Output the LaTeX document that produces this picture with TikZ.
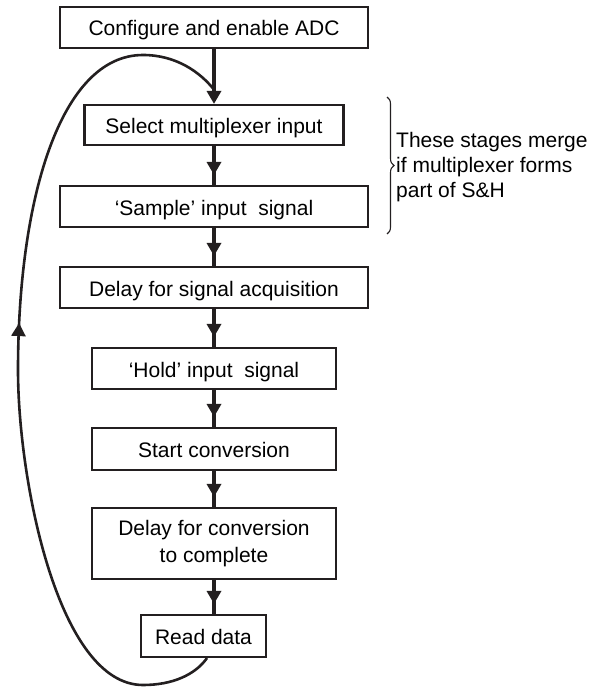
\documentclass[tikz,border=0pt]{standalone}
\usepackage{fontspec}
\setmainfont{Liberation Sans}
\usetikzlibrary{arrows.meta,decorations.markings,decorations.pathreplacing,calc}
\definecolor{ink}{HTML}{231F20}
\begin{document}
\begin{tikzpicture}[x=1pt,y=-1pt,
  box/.style={draw=ink, line width=2.1pt, inner sep=0pt, text=black,
    font=\fontsize{21}{26.5}\selectfont, align=center},
  onebox/.style={box, text height=17pt, text depth=0pt},
  flow/.style={draw=ink, line width=3.4pt, postaction={decorate},
    decoration={markings, mark=at position -10pt with {\arrow[ink]{Triangle[length=13pt,width=14pt]}}}},
  endflow/.style={draw=ink, line width=3.4pt, -{Triangle[length=13pt,width=14pt]}},
  loopline/.style={draw=ink, line width=2.6pt, postaction={decorate},
    decoration={markings, mark=at position 0.545 with {\arrow[ink]{Triangle[length=13pt,width=14pt]}}}},
  note/.style={font=\fontsize{21}{25}\selectfont, align=left, inner sep=0pt, anchor=north west}
]
\useasboundingbox (0,0) rectangle (592,687);

\node[onebox, minimum width=308pt, minimum height=41pt] (cfg) at (214,27.5) {Configure and enable ADC};
\node[onebox, minimum width=259pt, minimum height=40pt] (sel) at (214,125) {Select multiplexer input};
\node[onebox, minimum width=308pt, minimum height=41pt] (smp) at (214,206.5) {`Sample' input\ \ signal};
\node[onebox, minimum width=308pt, minimum height=41pt] (acq) at (214,287.5) {Delay for signal acquisition};
\node[onebox, minimum width=244pt, minimum height=41pt] (hold) at (214,368.5) {`Hold' input\ \ signal};
\node[onebox, minimum width=244pt, minimum height=42pt] (start) at (214,449) {Start conversion};
\node[box, minimum width=244pt, minimum height=71pt] (dconv) at (214,543.5) {Delay for conversion\\to complete};
\node[onebox, minimum width=125pt, minimum height=42pt] (read) at (203.5,636) {Read data};

\node[note] (txt) at (396,132) {These stages merge\\if multiplexer forms\\part of S\&H};

\draw[endflow] (cfg.south) -- (cfg.south |- sel.north);
\draw[flow] (sel.south) -- (smp.north);
\draw[flow] (smp.south) -- (acq.north);
\draw[flow] (acq.south) -- (hold.north);
\draw[flow] (hold.south) -- (start.north);
\draw[flow] (start.south) -- (dconv.north);
\draw[flow] (dconv.south) -- (dconv.south |- read.north);

\coordinate (c0) at ([xshift=3.5pt]read.south);
\coordinate (j) at ($(cfg.south)!0.74!(sel.north)$);
\draw[loopline] (c0) .. controls (195,675) and (172,685) .. (143,685)
  .. controls (58,685) and (18,480) .. (18,370)
  .. controls (18,200) and (60,55) .. (143,55)
  .. controls (176,55) and (200,72) .. (j);

\coordinate (btop) at (387,97);
\coordinate (bbot) at (387,234);
\draw[draw=ink, line width=1.1pt, decorate, decoration={brace, amplitude=7pt}] (btop) -- (bbot);
\end{tikzpicture}
\end{document}
